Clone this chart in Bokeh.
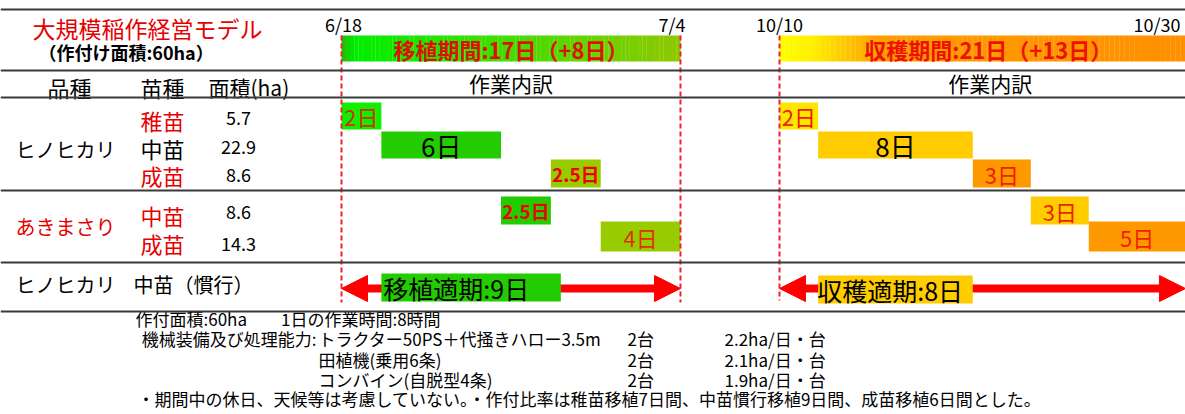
from bokeh.plotting import figure
from bokeh.models import Range1d, ColumnDataSource, Span, Arrow, NormalHead
from bokeh.embed import file_html
from bokeh.resources import INLINE
from bokeh.core.properties import value

FONT = "Noto Sans CJK JP"

# ---------------- data ----------------
title = "大規模稲作経営モデル"
subtitle = "（作付け面積:60ha）"
headers = ["品種", "苗種", "面積(ha)"]
work_header = "作業内訳"
varieties = ["ヒノヒカリ", "あきまさり"]
seedlings = ["稚苗", "中苗", "成苗", "中苗", "成苗"]
areas = [5.7, 22.9, 8.6, 8.6, 14.3]
tp_start = [0, 2, 10.5, 8, 13]          # transplanting start day (from 6/18)
tp_days = [2, 6, 2.5, 2.5, 4]
hv_start = [0, 2, 10, 13, 16]           # harvest start day (from 10/10)
hv_days = [2, 8, 3, 3, 5]
tp_dates = ["6/18", "7/4"]
hv_dates = ["10/10", "10/30"]
tp_total, tp_extra = 17, 8
hv_total, hv_extra = 21, 13
tp_opt_start, tp_opt_days = 2, 9
hv_opt_start, hv_opt_days = 2, 8
conv_variety = "ヒノヒカリ"
conv_seedling = "中苗（慣行）"
total_area = 60
hours_per_day = 8
machines = ["トラクター50PS＋代掻きハロー3.5m", "田植機(乗用6条)", "コンバイン(自脱型4条)"]
units = [2, 2, 2]
capacity = [2.2, 2.1, 1.9]
note = "・期間中の休日、天候等は考慮していない。・作付比率は稚苗移植7日間、中苗慣行移植9日間、成苗移植6日間とした。"

# ---------------- styles / layout ----------------
W, H = 1185, 414
X0, X1, Y0, Y1 = 0, 1185, 0, 414
TP_X0, TP_PXD = 341, 19.94
HV_X0, HV_PXD = 779, 19.33
ROW_Y = [115.5, 144.5, 173, 210, 236]
ROW_H = [27, 27, 28, 28, 30]
SEED_Y = [119, 147, 174, 214, 242]
AREA_Y = [117, 146, 174, 211, 243]
SEED_COL = ["#e60000", "#000000", "#e60000", "#e60000", "#e60000"]
tp_colors = ["#11ee00", "#22cc00", "#99cc00", "#22cc00", "#99cc00"]
hv_colors = ["#ffe600", "#ffcc00", "#ff9900", "#ffcc00", "#ff9900"]
tp_txt_col = ["#cc3300", "#000000", "#ee0000", "#ee0000", "#dd3300"]
hv_txt_col = ["#ee2200", "#000000", "#ee2200", "#ee2200", "#ee2200"]
tp_txt_size = ["22px", "26px", "19px", "19px", "22px"]
hv_txt_size = ["22px", "26px", "22px", "22px", "22px"]
tp_txt_style = ["normal", "normal", "bold", "bold", "normal"]
RED = "#ff0000"
DASH = "#ee2233"

p = figure(width=W, height=H, x_range=Range1d(X0, X1), y_range=Range1d(Y1, Y0),
           output_backend="svg", toolbar_location=None, min_border=0)
p.axis.visible = False
p.grid.visible = False
p.outline_line_color = None
p.background_fill_color = "white"
p.border_fill_color = "white"
p.extra_x_ranges = {
    "tp": Range1d((X0 - TP_X0) / TP_PXD, (X1 - TP_X0) / TP_PXD),
    "hv": Range1d((X0 - HV_X0) / HV_PXD, (X1 - HV_X0) / HV_PXD),
}


def put(x, y, s, size, color="#000000", align="left", bold=False, rn="default"):
    p.text(x=[x], y=[y], text=[s], text_font=value(FONT), text_font_size=f"{size}px",
           text_color=color, text_align=align, text_baseline="middle",
           text_font_style="bold" if bold else "normal", x_range_name=rn)


def hexrgb(h):
    return tuple(int(h[i:i + 2], 16) for i in (1, 3, 5))


def grad(stops, t):
    for (t0, c0), (t1, c1) in zip(stops[:-1], stops[1:]):
        if t0 <= t <= t1:
            f = 0 if t1 == t0 else (t - t0) / (t1 - t0)
            a, b = hexrgb(c0), hexrgb(c1)
            return "#%02x%02x%02x" % tuple(int(round(a[i] + (b[i] - a[i]) * f)) for i in range(3))
    return stops[-1][1]


# horizontal rules
for yy in [9, 70, 97, 190, 262, 311]:
    p.add_layout(Span(location=yy, dimension="width", line_color="#3a3a3a", line_width=2))

# title block
put(32, 27, title, 23, "#e60000")
put(38, 51, subtitle, 18, bold=True)
put(47, 86, headers[0], 22)
put(140, 86, headers[1], 22)
put(208, 86, headers[2], 21)

# period gradient bars
N = 80
tp_stops = [(0, "#22bb00"), (0.04, "#00ee00"), (1, "#8fc800")]
hv_stops = [(0, "#ffff00"), (0.08, "#fff000"), (0.25, "#ff9c00"), (1, "#ff9000")]
for rn, total, stops in [("tp", tp_total, tp_stops), ("hv", hv_total, hv_stops)]:
    lefts = [total * i / N for i in range(N)]
    rights = [total * (i + 1) / N + 0.01 for i in range(N)]
    cols = [grad(stops, (i + 0.5) / N) for i in range(N)]
    p.quad(left=lefts, right=rights, top=35, bottom=61, fill_color=cols, line_color=None, x_range_name=rn)

put(tp_total / 2, 48, f"移植期間:{tp_total}日（+{tp_extra}日）", 22, "#dd1100", "center", True, "tp")
put(hv_total / 2 + 0.3, 48, f"収穫期間:{hv_total}日（+{hv_extra}日）", 22, "#ee1100", "center", True, "hv")
put(0.1, 23, tp_dates[0], 18, align="center", rn="tp")
put(tp_total + 0.25, 23, tp_dates[1], 18, align="right", rn="tp")
put(0, 23, hv_dates[0], 18, align="center", rn="hv")
put(hv_total - 0.25, 23, hv_dates[1], 18, align="right", rn="hv")
put(tp_total / 2, 82, work_header, 21, align="center", rn="tp")
put(hv_total / 2 + 0.4, 82, work_header, 21, align="center", rn="hv")

# left table labels
put(15, 149, varieties[0], 20)
put(15, 226, varieties[1], 20, "#e60000")
for i in range(5):
    put(162, SEED_Y[i], seedlings[i], 22, SEED_COL[i], "center")
    put(238, AREA_Y[i], f"{areas[i]:g}", 18, align="center")
put(15, 284, conv_variety, 20)
put(133, 284, conv_seedling, 20)

# work bars
for rn, starts, days, cols, tcols, tsz, tst in [
        ("tp", tp_start, tp_days, tp_colors, tp_txt_col, tp_txt_size, tp_txt_style),
        ("hv", hv_start, hv_days, hv_colors, hv_txt_col, hv_txt_size, ["normal"] * 5)]:
    src = ColumnDataSource(dict(
        left=starts, right=[s + d for s, d in zip(starts, days)],
        mid=[s + d / 2 for s, d in zip(starts, days)],
        y=ROW_Y, h=ROW_H, color=cols, label=[f"{d:g}日" for d in days],
        tcol=tcols, tsz=tsz, tst=tst))
    p.hbar(y="y", left="left", right="right", height="h", fill_color="color",
           line_color=None, source=src, x_range_name=rn)
    p.text(x="mid", y="y", text="label", text_color="tcol", text_font_size="tsz",
           text_font_style="tst", text_font=value(FONT), text_align="center",
           text_baseline="middle", source=src, x_range_name=rn)

# optimal period arrows
for rn, total in [("tp", tp_total), ("hv", hv_total)]:
    p.add_layout(Arrow(x_start=0, y_start=288, x_end=total, y_end=288, x_range_name=rn,
                       line_color=RED, line_width=8, level="underlay",
                       start=NormalHead(size=26, fill_color=RED, line_color=RED),
                       end=NormalHead(size=26, fill_color=RED, line_color=RED)))
p.hbar(y=[287], left=[tp_opt_start], right=[tp_opt_start + tp_opt_days], height=28,
       fill_color="#22cc00", line_color=None, x_range_name="tp")
p.hbar(y=[289], left=[hv_opt_start], right=[hv_opt_start + hv_opt_days], height=28,
       fill_color="#ffcc00", line_color=None, x_range_name="hv")
put(tp_opt_start + 0.1, 287, f"移植適期:{tp_opt_days}日", 25, rn="tp")
put(hv_opt_start - 0.05, 289, f"収穫適期:{hv_opt_days}日", 25, rn="hv")

# dashed period borders
p.segment(x0=[0, tp_total], y0=[35, 35], x1=[0, tp_total], y1=[302, 302], line_color=DASH,
          line_width=2, line_dash="5 3", x_range_name="tp")
p.segment(x0=[0], y0=[35], x1=[0], y1=[300], line_color=DASH,
          line_width=2, line_dash="5 3", x_range_name="hv")

# footer
FS = 17
put(135, 318, f"作付面積:{total_area}ha　　1日の作業時間:{hours_per_day}時間", FS)
put(316, 338, "機械装備及び処理能力:", FS, align="right")
foot_y = [338, 359, 379]
for i in range(3):
    put(318, foot_y[i], machines[i], FS)
    put(627, foot_y[i], f"{units[i]}台", FS)
    put(724, foot_y[i], f"{capacity[i]:g}ha/日・台", FS)
put(137, 398, note, FS)

open("out.html", "w").write(file_html(p, INLINE))
